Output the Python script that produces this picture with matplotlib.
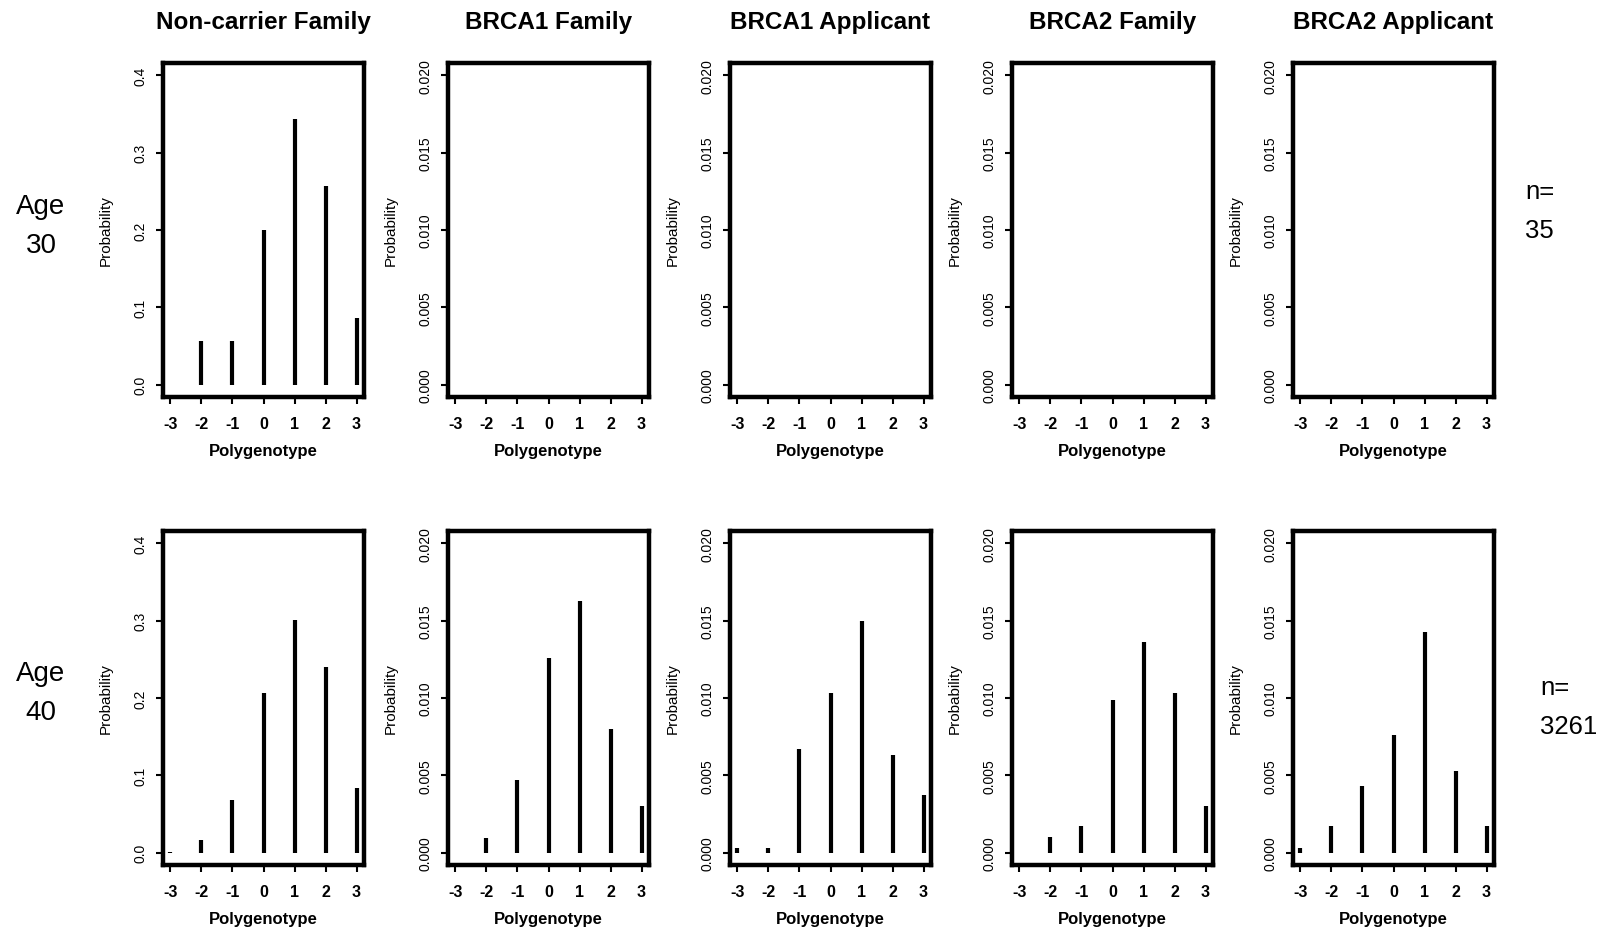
import matplotlib
matplotlib.use("Agg")
import matplotlib.pyplot as plt
import numpy as np

plt.rcParams["font.family"] = ["Liberation Sans", "DejaVu Sans"]

genotypes = [-3, -2, -1, 0, 1, 2, 3]
titles = ["Non-carrier Family", "BRCA1 Family", "BRCA1 Applicant",
          "BRCA2 Family", "BRCA2 Applicant"]
ages = ["30", "40"]
counts = ["35", "3261"]

# age 30: only the non-carrier panel has values
nc30 = [0.0, 0.057, 0.057, 0.200, 0.343, 0.257, 0.086]
# age 40
nc40 = [0.001, 0.016, 0.068, 0.207, 0.301, 0.240, 0.083]
b1f40 = [0.0, 0.00097, 0.00467, 0.0126, 0.0163, 0.0080, 0.0030]
b1a40 = [0.0003, 0.0003, 0.0067, 0.0103, 0.0150, 0.0063, 0.0037]
b2f40 = [0.0, 0.0010, 0.0017, 0.0099, 0.0136, 0.0103, 0.0030]
b2a40 = [0.0003, 0.0017, 0.0043, 0.0076, 0.0143, 0.0053, 0.0017]

rows = [[nc30, None, None, None, None],
        [nc40, b1f40, b1a40, b2f40, b2a40]]

nc_ticks = [0.0, 0.1, 0.2, 0.3, 0.4]
brca_ticks = [0.000, 0.005, 0.010, 0.015, 0.020]

W, H = 1602, 928
fig = plt.figure(figsize=(W / 100, H / 100), dpi=100)

lefts = [163, 448, 730, 1012, 1293]
pw = 201
tops = [64, 532]
ph = 334


def px_axes(left, top, w, h):
    return fig.add_axes([left / W, 1 - (top + h) / H, w / W, h / H])


def px_text(x, y, s, **kw):
    return fig.text(x / W, 1 - y / H, s, **kw)


for r in range(2):
    for c in range(5):
        ax = px_axes(lefts[c], tops[r], pw, ph)
        ticks = nc_ticks if c == 0 else brca_ticks
        vals = rows[r][c]
        if vals is not None:
            ax.vlines(genotypes, 0, vals, color="black", lw=3.0,
                      capstyle="butt")
        ymax = ticks[-1]
        ax.set_xlim(-3 - 0.24, 3 + 0.24)
        ax.set_ylim(-0.04 * ymax, ymax * 1.04)
        ax.set_xticks(genotypes)
        ax.set_xticklabels([str(g) for g in genotypes], fontsize=11.5,
                           fontweight="bold")
        ax.set_yticks(ticks)
        if c == 0:
            ax.set_yticklabels([f"{t:.1f}" for t in ticks])
        else:
            ax.set_yticklabels([f"{t:.3f}" for t in ticks])
        for lab in ax.get_yticklabels():
            lab.set_rotation(90)
            lab.set_va("center")
            lab.set_fontsize(10)
        ax.tick_params(axis="both", direction="out", length=5, width=1.5,
                       pad=9)
        ax.tick_params(axis="y", pad=6)
        for s in ax.spines.values():
            s.set_linewidth(3.2)
        ax.set_xlabel("Polygenotype", fontsize=12, fontweight="bold",
                      labelpad=8)
        ax.set_ylabel("Probability", fontsize=11, labelpad=15)
        if r == 0:
            px_text(lefts[c] + pw / 2, 29, titles[c], fontsize=17.5,
                    fontweight="bold", ha="center", va="baseline")

# row labels on the left (age) and right (sample size)
age_base = [214, 681]
n_base = [199, 695]
n_left = [1525, 1540]
for r in range(2):
    px_text(41, age_base[r], "Age", fontsize=20, ha="center", va="baseline")
    px_text(41, age_base[r] + 39, ages[r], fontsize=20, ha="center",
            va="baseline")
    px_text(n_left[r], n_base[r], "n=", fontsize=18.5, ha="left",
            va="baseline")
    px_text(n_left[r], n_base[r] + 39, counts[r], fontsize=18.5, ha="left",
            va="baseline")

fig.savefig("out.png", dpi=100)
